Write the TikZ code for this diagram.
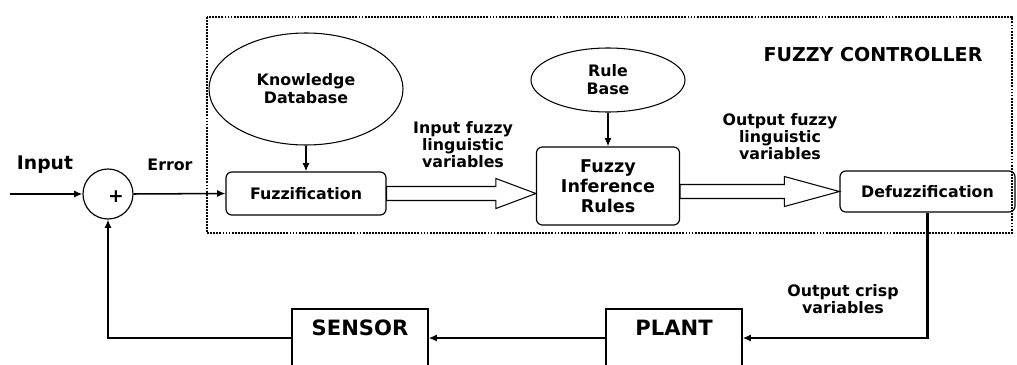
\documentclass[tikz,border=0pt]{standalone}
\usepackage{fontspec}
\setmainfont{DejaVu Sans}
\usetikzlibrary{shapes.geometric,arrows.meta,calc}

\begin{document}
\begin{tikzpicture}[x=0.03cm,y=-0.03cm,
    txt/.style={font=\bfseries\fontsize{13.5}{14.5}\selectfont,align=center,inner sep=0pt},
    roundbox/.style={draw,rounded corners=5pt,line width=1pt,txt},
    blockbox/.style={draw,line width=1pt,minimum width=4.08cm,minimum height=1.74cm},
    dbase/.style={draw,ellipse,line width=0.9pt,txt},
    sig/.style={-{Latex[length=7pt,width=6pt]},line width=1.3pt},
    fback/.style={-{Latex[length=7pt,width=6pt]},line width=2pt},
    hollow/.style={draw,line width=0.9pt,fill=white}]
  \useasboundingbox (0,0) rectangle (1017,364);
  \clip (0,0) rectangle (1017,364);

  % controller frame
  \draw[line width=1.6pt,densely dotted] (207,17) rectangle (1012,233);
  \node[txt,font=\bfseries\fontsize{16.3}{18}\selectfont] (title) at (873,55) {FUZZY CONTROLLER};

  % summing junction
  \coordinate (in) at (10,194);
  \node[draw,circle,line width=1pt,minimum size=1.5cm] (sum) at (108,194) {};
  \node[txt,font=\bfseries\fontsize{16}{18}\selectfont] (plus) at ($(sum.center)+(8,3)$) {+};
  \node[txt,font=\bfseries\fontsize{16}{18}\selectfont] (inlbl) at (45,165) {Input};
  \node[txt] (errlbl) at (170,165) {Error};

  % controller blocks
  \node[dbase,minimum width=5.82cm,minimum height=3.36cm] (know) at (306,89) {Knowledge\\[1pt]Database};
  \node[roundbox,minimum width=4.8cm,minimum height=1.29cm] (fuzz) at (306,193.5) {Fuzzification};
  \node[dbase,minimum width=4.62cm,minimum height=1.92cm] (rule) at (608,80) {Rule\\[1pt]Base};
  \node[roundbox,font=\bfseries\fontsize{15}{17}\selectfont,minimum width=4.29cm,minimum height=2.34cm] (infer) at (608,186) {Fuzzy\\Inference\\Rules};
  \node[roundbox,minimum width=5.25cm,minimum height=1.23cm] (defuzz) at (927.5,191.5) {Defuzzification};

  \node[txt] (ifz) at (463,145) {Input fuzzy\\linguistic\\variables};
  \node[txt] (ofz) at (780,137) {Output fuzzy\\linguistic\\variables};
  \node[txt] (ocr) at (843,299) {Output crisp\\variables};

  % plant and sensor (cut by the lower edge)
  \node[blockbox,label={[txt,font=\bfseries\fontsize{18}{20}\selectfont,anchor=north,yshift=-9.4pt]north:PLANT}] (plant) at (674,338) {};
  \node[blockbox,label={[txt,font=\bfseries\fontsize{18}{20}\selectfont,anchor=north,yshift=-9.4pt]north:SENSOR}] (sensor) at (360,338) {};

  % signal lines
  \draw[sig] (in) -- (sum.west);
  \draw[sig] (sum.east) -- (fuzz.west);
  \draw[sig] (know.south) -- (fuzz.north);
  \draw[sig] (rule.south) -- (infer.north);

  % wide hollow arrows between the stages
  \foreach \a/\b/\r/\h in {fuzz/infer/fuzz/40, infer/defuzz/defuzz/55}
    \draw[hollow] ($(\a.east |- \r)+(0,-7)$) -- ($(\b.west |- \r)+(-\h,-7)$)
      -- ($(\b.west |- \r)+(-\h,-15)$) -- (\b.west |- \r)
      -- ($(\b.west |- \r)+(-\h,15)$) -- ($(\b.west |- \r)+(-\h,7)$)
      -- ($(\a.east |- \r)+(0,7)$) -- cycle;

  % feedback loop
  \draw[fback] (defuzz.south) |- (plant.east);
  \draw[fback] (plant.west) -- (sensor.east);
  \draw[fback] (sensor.west) -| (sum.south);
\end{tikzpicture}
\end{document}
